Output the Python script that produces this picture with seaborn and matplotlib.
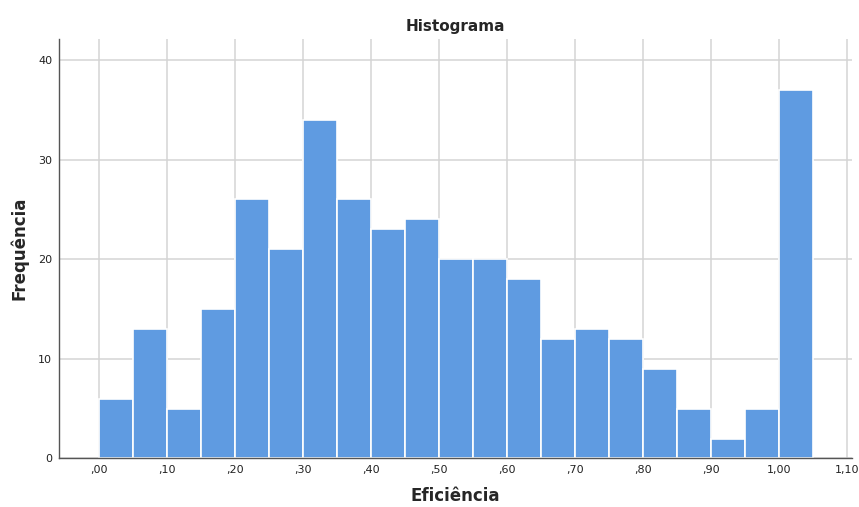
import numpy as np
import pandas as pd
import matplotlib
matplotlib.use("Agg")
import matplotlib.pyplot as plt
import seaborn as sns

# bin left edges (width 0.05) and frequencies
bin_lefts = [0.00, 0.05, 0.10, 0.15, 0.20, 0.25, 0.30, 0.35, 0.40, 0.45, 0.50,
             0.55, 0.60, 0.65, 0.70, 0.75, 0.80, 0.85, 0.90, 0.95, 1.00]
counts = [6, 13, 5, 15, 26, 21, 34, 26, 23, 24, 20,
          20, 18, 12, 13, 12, 9, 5, 2, 5, 37]
tick_values = [0.0, 0.1, 0.2, 0.3, 0.4, 0.5, 0.6, 0.7, 0.8, 0.9, 1.0, 1.1]
tick_labels = [",00", ",10", ",20", ",30", ",40", ",50", ",60", ",70", ",80", ",90", "1,00", "1,10"]

width = 0.05
df = pd.DataFrame({"Eficiência": np.array(bin_lefts) + width / 2, "n": counts})
edges = list(bin_lefts) + [bin_lefts[-1] + width]

sns.set_style("white")
plt.rcParams['font.family'] = ['DejaVu Sans']

fig = plt.figure(figsize=(8.59, 5.07), dpi=100)
ax = fig.add_axes([0.0687, 0.0957, 0.9233, 0.8273])

ax.set_axisbelow(True)
ax.grid(True, color="#d4d4d4", linewidth=1.1)

sns.histplot(data=df, x="Eficiência", weights="n", bins=edges, ax=ax,
             color="#5f9be1", alpha=1.0, edgecolor="white", linewidth=1.2)

ax.set_xlim(-0.0588, 1.107)
ax.set_ylim(0, 42.1)
ax.set_xticks(tick_values)
ax.set_xticklabels(tick_labels)
ax.set_yticks([0, 10, 20, 30, 40])
ax.tick_params(axis="both", length=0, labelsize=8, colors="#222222", pad=5)

for s in ["top", "right"]:
    ax.spines[s].set_visible(False)
for s in ["left", "bottom"]:
    ax.spines[s].set_color("#555555")
    ax.spines[s].set_linewidth(1.0)

ax.set_title("Histograma", fontsize=11, fontweight="bold", pad=6)
ax.set_xlabel("Eficiência", fontsize=12, fontweight="bold", labelpad=8)
ax.set_ylabel("Frequência", fontsize=12, fontweight="bold", labelpad=7)

fig.savefig("out.png", dpi=100)
